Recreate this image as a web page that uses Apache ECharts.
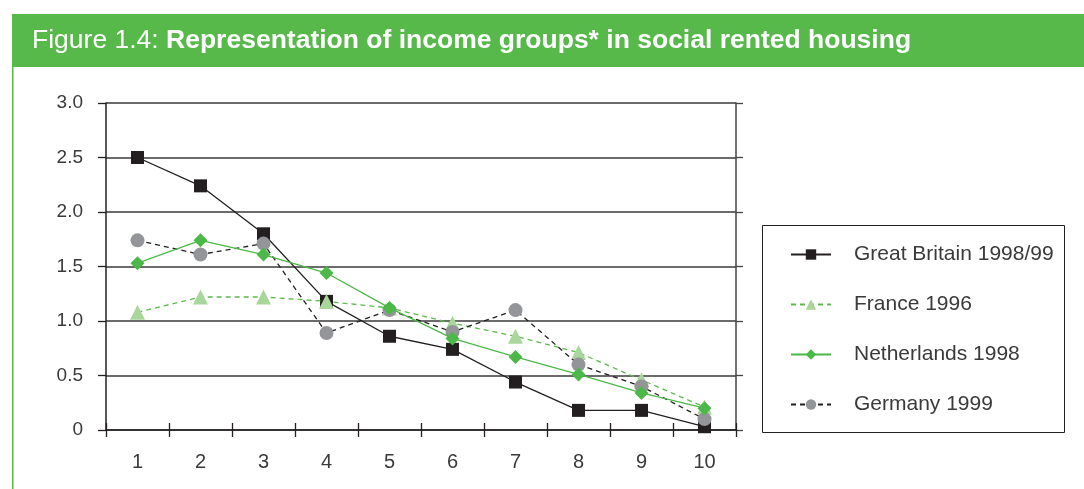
<!DOCTYPE html>
<html><head><meta charset="utf-8">
<script src="https://cdn.jsdelivr.net/npm/echarts@6/dist/echarts.min.js"></script>
<style>html,body{margin:0;padding:0;background:#fff}#c{width:1084px;height:489px}</style>
</head><body><div id="c"></div>
<script>
const categories = ['1','2','3','4','5','6','7','8','9','10'];
const greatBritain = [2.50, 2.24, 1.80, 1.18, 0.86, 0.74, 0.44, 0.18, 0.18, 0.03];
const france = [1.08, 1.22, 1.22, 1.18, 1.12, 0.98, 0.86, 0.71, 0.46, 0.21];
const netherlands = [1.53, 1.74, 1.61, 1.44, 1.12, 0.84, 0.67, 0.51, 0.34, 0.20];
const germany = [1.74, 1.61, 1.71, 0.89, 1.10, 0.90, 1.10, 0.60, 0.40, 0.10];
const yTicks = ['0','0.5','1.0','1.5','2.0','2.5','3.0'];

const FONT = '"Liberation Sans", Arial, Helvetica, sans-serif';
const chart = echarts.init(document.getElementById('c'), null, {renderer:'canvas'});
const axisCol = '#231f20';
chart.setOption({
  animation: false,
  textStyle: {fontFamily: FONT},
  graphic: [
    {type:'rect', left:12, top:14, shape:{width:1072, height:53}, style:{fill:'#58b94b'}, z:0},
    {type:'rect', left:12, top:67, shape:{width:1.5, height:422}, style:{fill:'#58b94b'}, z:0},
    {type:'text', left:32, top:27, style:{
      text:'{a|Figure 1.4: }{b|Representation of income groups* in social rented housing}',
      rich:{
        a:{fontFamily:FONT, fontSize:26.5, fill:'#fff'},
        b:{fontFamily:FONT, fontSize:26.5, fontWeight:'bold', fill:'#fff'}
      }}},
    {type:'rect', left:760, top:223, shape:{width:302, height:207}, style:{fill:'none', stroke:'#231f20', lineWidth:1}, z:0}
  ],
  grid: {left:106, right:348, top:103, bottom:59, containLabel:false},
  legend: {
    orient:'vertical', left:790, top:244, padding:0,
    data:['Great Britain 1998/99','France 1996','Netherlands 1998','Germany 1999'],
    itemWidth:40, itemHeight:13, itemGap:29,
    textStyle:{fontFamily:FONT, fontSize:21, color:'#3a3a3a', padding:[0,0,0,18]}
  },
  xAxis: [
    {type:'category', data:categories, boundaryGap:true, position:'bottom',
     axisLine:{lineStyle:{color:axisCol, width:1.5}},
     axisTick:{show:true, inside:false, length:7, lineStyle:{color:axisCol, width:1.3}},
     axisLabel:{fontFamily:FONT, fontSize:20, color:'#3a3a3a', margin:22}},
    {type:'category', data:categories, boundaryGap:true, position:'bottom', offset:0,
     axisLine:{show:false},
     axisTick:{show:true, inside:true, length:7, lineStyle:{color:axisCol, width:1.3}},
     axisLabel:{show:false}}
  ],
  yAxis: [
    {type:'value', min:0, max:3, interval:0.5, position:'left',
     axisLine:{show:true, lineStyle:{color:axisCol, width:1.5}},
     axisTick:{show:true, length:8, lineStyle:{color:axisCol, width:1.3}},
     axisLabel:{fontFamily:FONT, fontSize:19, color:'#3a3a3a', margin:23,
       formatter:(v)=>yTicks[Math.round(v/0.5)]},
     splitLine:{show:true, lineStyle:{color:'#3a3a3a', width:1.5}}},
    {type:'value', min:0, max:3, interval:0.5, position:'right',
     axisLine:{show:true, lineStyle:{color:'#444', width:1.5}},
     axisTick:{show:true, length:7, lineStyle:{color:'#444', width:1.3}},
     axisLabel:{show:false}, splitLine:{show:false}}
  ],
  series: [
    {name:'Great Britain 1998/99', type:'line', data:greatBritain, symbol:'rect', symbolSize:13,
     lineStyle:{color:'#231f20', width:1.3}, itemStyle:{color:'#231f20'}, z:2},
    {name:'France 1996', type:'line', data:france, symbol:'triangle', symbolSize:15,
     lineStyle:{color:'#5cba4c', width:1.3, type:[5,4]}, itemStyle:{color:'#a9d79b'}, z:3},
    {name:'Germany 1999', type:'line', data:germany, symbol:'circle', symbolSize:14,
     lineStyle:{color:'#231f20', width:1.3, type:[5,4]}, itemStyle:{color:'#939598'}, z:4},
    {name:'Netherlands 1998', type:'line', data:netherlands, symbol:'diamond', symbolSize:14,
     lineStyle:{color:'#4cb848', width:1.3}, itemStyle:{color:'#4cb848'}, z:5}
  ]
});
</script></body></html>
